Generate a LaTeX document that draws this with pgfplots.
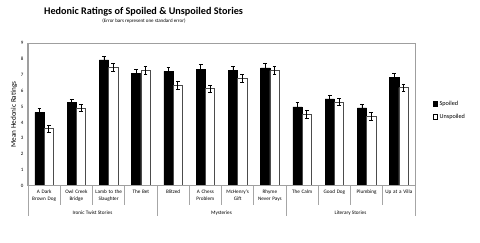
\documentclass[border=0pt]{standalone}
\usepackage{pgfplots}
\pgfplotsset{compat=1.18}
\usepackage{pgfplotstable}
\usepackage{fontspec}
\setmainfont{Carlito}

\pgfplotstableread{
x s se u ue
0 4.64 0.24 3.61 0.21
1 5.25 0.22 4.92 0.22
2 7.95 0.24 7.47 0.24
3 7.11 0.22 7.28 0.24
4 7.22 0.25 6.35 0.27
5 7.34 0.32 6.14 0.22
6 7.28 0.25 6.79 0.24
7 7.45 0.28 7.28 0.25
8 4.98 0.26 4.51 0.25
9 5.49 0.25 5.30 0.24
10 4.92 0.25 4.39 0.26
11 6.84 0.28 6.20 0.24
}\data

\begin{document}
\begin{tikzpicture}[x=1pt,y=1pt]
\useasboundingbox (0,0) rectangle (480,243);
\node[font=\bfseries\fontsize{10.2}{11}\selectfont] at (143.5,231) {Hedonic Ratings of Spoiled \& Unspoiled Stories};
\node[font=\fontsize{5}{5.5}\selectfont] at (144,222) {(Error bars represent one standard error)};
\begin{axis}[
  name=ax,
  at={(28pt,57.3pt)}, anchor=south west, scale only axis,
  width=387pt, height=142.4pt,
  clip=false,
  ymin=0, ymax=9, xmin=-0.5, xmax=11.5,
  ytick={0,...,9},
  xtick={0,...,11},
  xticklabels={{A Dark\\Brown Dog},{Owl Creek\\Bridge},{Lamb to the\\Slaughter},{The Bet},{Blitzed},{A Chess\\Problem},{McHenry's\\Gift},{Rhyme\\Never Pays},{The Calm},{Good Dog},{Plumbing},{Up at a Villa}},
  xticklabel style={font=\fontsize{5.2}{7}\selectfont, align=center, text width=32pt, anchor=north, yshift=-1pt},
  yticklabel style={font=\fontsize{5}{5}\selectfont, xshift=-1pt},
  /pgf/number format/assume math mode=true,
  major tick length=0pt,
  axis line style={draw=gray!75, line width=1pt},
  ylabel={Mean Hedonic Ratings},
  ylabel style={font=\fontsize{7.2}{8}\selectfont, yshift=-3pt},
  ybar=0pt, bar width=9.3pt,
  legend style={draw=none, fill=none, at={(1.045,0.53)}, anchor=west, font=\fontsize{6.2}{7}\selectfont, row sep=3pt, inner sep=0pt},
  legend cell align=left,
  legend image code/.code={\draw[#1, draw=black] (0pt,-2.2pt) rectangle (4.4pt,2.2pt);},
  error bars/error bar style={black, line width=0.6pt},
  error bars/error mark options={rotate=90, mark size=1.8pt, black, line width=0.6pt},
]
\addplot[fill=black, draw=black, error bars/.cd, y dir=both, y explicit] table[x=x, y=s, y error=se] {\data};
\addplot[fill=white, draw=gray!60!black, line width=0.6pt, error bars/.cd, y dir=both, y explicit] table[x=x, y=u, y error=ue] {\data};
\legend{Spoiled, Unspoiled}
\foreach \p in {0.5,1.5,2.5,4.5,5.5,6.5,8.5,9.5,10.5} {
  \edef\tmp{\noexpand\draw[gray!70, line width=0.6pt] (axis cs:\p,0) -- ++(0pt,-19pt);}
  \tmp
}
\foreach \p in {-0.5,3.5,7.5,11.5} {
  \edef\tmp{\noexpand\draw[gray!70, line width=0.6pt] (axis cs:\p,0) -- ++(0pt,-30pt);}
  \tmp
}
\node[font=\fontsize{5.2}{6}\selectfont] at ([yshift=-27.5pt]axis cs:1.5,0) {Ironic Twist Stories};
\node[font=\fontsize{5.2}{6}\selectfont] at ([yshift=-27.5pt]axis cs:5.5,0) {Mysteries};
\node[font=\fontsize{5.2}{6}\selectfont] at ([yshift=-27.5pt]axis cs:9.5,0) {Literary Stories};
\end{axis}
\draw[gray!75, line width=1pt] (ax.south west) rectangle (ax.north east);
\end{tikzpicture}
\end{document}
